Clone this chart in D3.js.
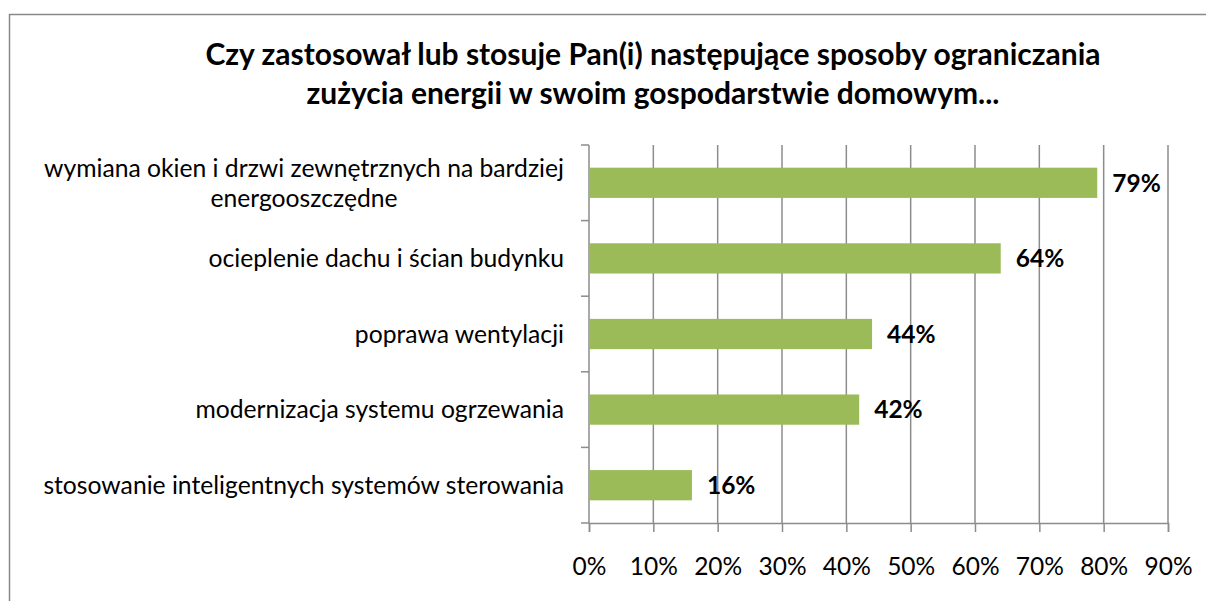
<!DOCTYPE html>
<html lang="pl">
<head>
    <meta charset="UTF-8">
    <script src="https://d3js.org/d3.v7.min.js"></script>
    <title>Sposoby ograniczania zużycia energii</title>
    <style>
        body { margin: 0; background: #fff; }
        svg text { font-family: Lato, "Open Sans", sans-serif; fill: #000; }
    </style>
</head>
<body>
    <div id="chart"></div>

    <script type="text/javascript">
        const width = 1206;
        const height = 601;

        const titleLines = [
            "Czy zastosował lub stosuje Pan(i) następujące sposoby ograniczania",
            "zużycia energii w swoim gospodarstwie domowym..."
        ];
        const categories = [
            ["wymiana okien i drzwi zewnętrznych na bardziej", "energooszczędne"],
            ["ocieplenie dachu i ścian budynku"],
            ["poprawa wentylacji"],
            ["modernizacja systemu ogrzewania"],
            ["stosowanie inteligentnych systemów sterowania"]
        ];
        const values = [79, 64, 44, 42, 16];
        const ticks = [0, 10, 20, 30, 40, 50, 60, 70, 80, 90];

        const margin = { top: 145, right: 38, bottom: 78, left: 589 };
        const plotW = width - margin.left - margin.right;
        const plotH = height - margin.top - margin.bottom;

        const svg = d3.select("#chart")
            .append("svg")
            .attr("width", width)
            .attr("height", height);

        // chart frame
        svg.append("path")
            .attr("d", `M9.5,${height + 5} V14.5 H${width + 5}`)
            .attr("fill", "none")
            .attr("stroke", "#888")
            .attr("stroke-width", 1.5);

        svg.selectAll(".title")
            .data(titleLines)
            .enter()
            .append("text")
            .attr("class", "title")
            .attr("x", 653)
            .attr("y", (d, i) => 65 + i * 39)
            .attr("text-anchor", "middle")
            .style("font-size", "30px")
            .style("font-weight", "bold")
            .text(d => d);

        const x = d3.scaleLinear()
            .domain([0, 90])
            .range([0, plotW]);

        const y = d3.scaleBand()
            .domain(d3.range(categories.length))
            .range([0, plotH])
            .paddingInner(0.6)
            .paddingOuter(0.3);

        const g = svg.append("g")
            .attr("transform", `translate(${margin.left}, ${margin.top})`);

        // vertical gridlines
        g.selectAll(".grid")
            .data(ticks.slice(1))
            .enter()
            .append("line")
            .attr("class", "grid")
            .attr("x1", d => x(d))
            .attr("x2", d => x(d))
            .attr("y1", 0)
            .attr("y2", plotH)
            .attr("stroke", "#8c8c8c")
            .attr("stroke-width", 1.5);

        // x axis
        const xAxis = g.append("g")
            .attr("transform", `translate(0, ${plotH})`)
            .call(d3.axisBottom(x).tickValues(ticks).tickFormat(d => d + "%").tickSize(9).tickPadding(26));
        xAxis.select(".domain").attr("stroke", "#8c8c8c").attr("stroke-width", 1.5);
        xAxis.selectAll(".tick line").attr("stroke", "#8c8c8c").attr("stroke-width", 1.5);
        xAxis.selectAll(".tick text")
            .style("font-size", "24.5px")
            .style("font-family", "Lato, sans-serif")
            .attr("fill", "#000");

        // y axis line with category ticks at band edges
        const band = plotH / categories.length;
        g.append("line")
            .attr("x1", 0).attr("x2", 0)
            .attr("y1", 0).attr("y2", plotH)
            .attr("stroke", "#8c8c8c")
            .attr("stroke-width", 1.5);
        g.selectAll(".ytick")
            .data(d3.range(categories.length + 1))
            .enter()
            .append("line")
            .attr("class", "ytick")
            .attr("x1", -8).attr("x2", 0)
            .attr("y1", d => d * band)
            .attr("y2", d => d * band)
            .attr("stroke", "#8c8c8c")
            .attr("stroke-width", 1.5);

        // bars
        g.selectAll(".bar")
            .data(values)
            .enter()
            .append("rect")
            .attr("class", "bar")
            .attr("x", 0)
            .attr("y", (d, i) => y(i))
            .attr("width", d => x(d))
            .attr("height", y.bandwidth())
            .attr("fill", "#9bbb59");

        // value labels
        g.selectAll(".value")
            .data(values)
            .enter()
            .append("text")
            .attr("class", "value")
            .attr("x", d => x(d) + 15)
            .attr("y", (d, i) => y(i) + y.bandwidth() / 2)
            .attr("dy", "0.36em")
            .style("font-size", "24.5px")
            .style("font-weight", "bold")
            .text(d => d + "%");

        // category labels, multi-line ones centred within their block
        categories.forEach((lines, i) => {
            const cy = y(i) + y.bandwidth() / 2;
            const lh = 30;
            const t = g.append("text")
                .attr("class", "cat")
                .attr("text-anchor", "middle")
                .style("font-size", "24.7px");
            lines.forEach((line, j) => {
                t.append("tspan")
                    .attr("x", 0)
                    .attr("y", cy + (j - (lines.length - 1) / 2) * lh)
                    .attr("dy", "0.36em")
                    .text(line);
            });
            const w = t.node().getBBox().width;
            t.selectAll("tspan").attr("x", -25 - w / 2);
        });
    </script>
</body>
</html>
